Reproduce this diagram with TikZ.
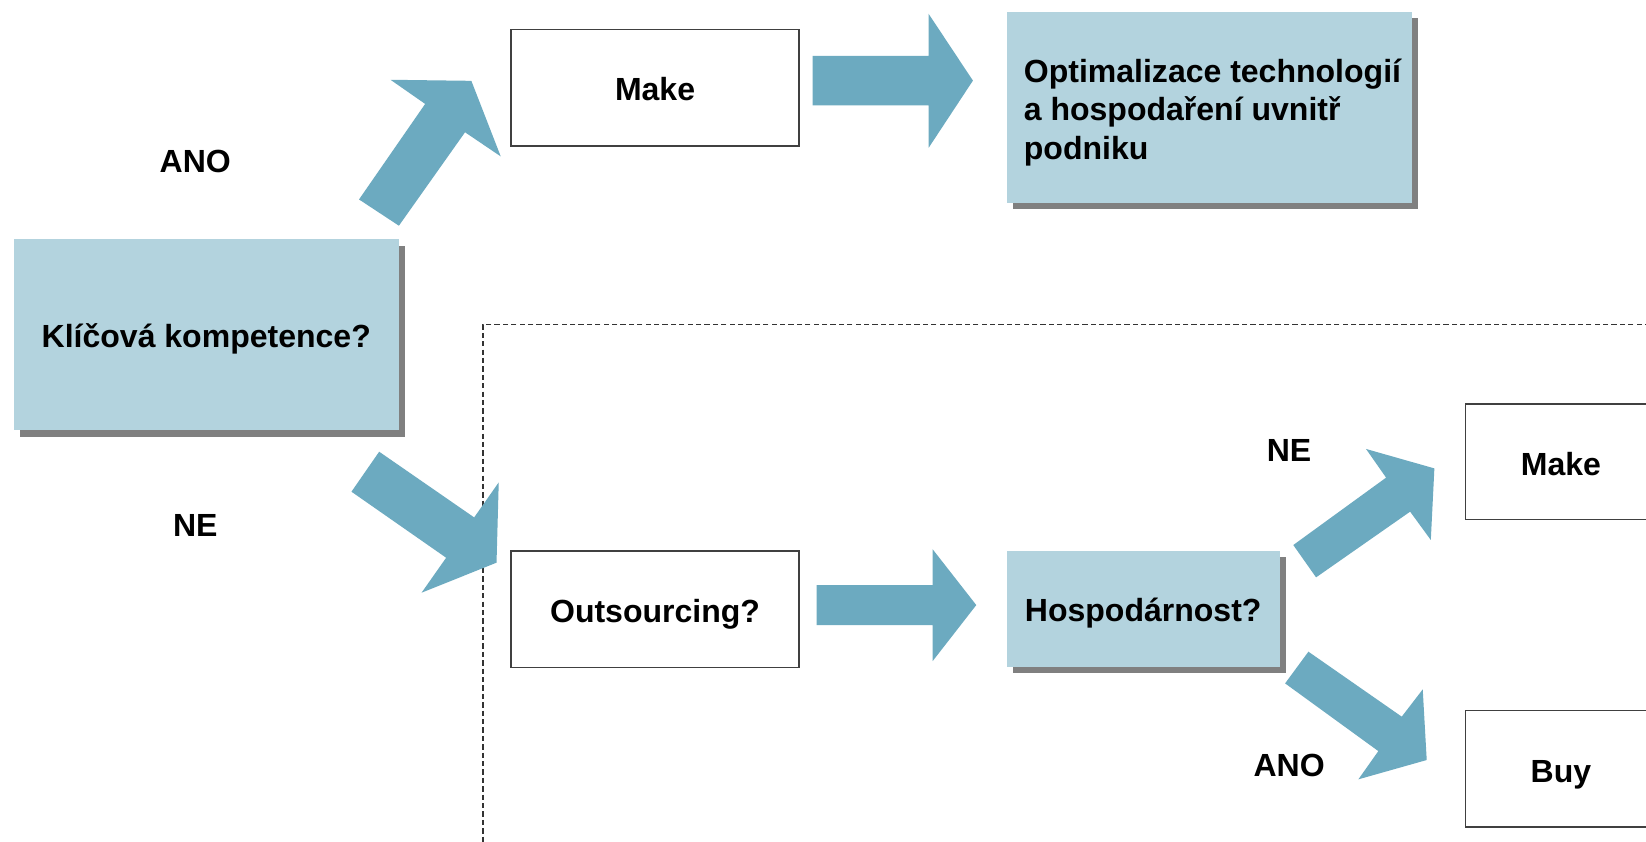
\documentclass[tikz,border=0pt]{standalone}
\usepackage{fontspec}
\setmainfont{Liberation Sans}
\usetikzlibrary{shadows}
\definecolor{boxblue}{RGB}{179,211,222}
\definecolor{arrowblue}{RGB}{108,170,192}
\definecolor{shadowgray}{RGB}{128,128,128}
\definecolor{bordergray}{RGB}{64,64,64}
\begin{document}
\begin{tikzpicture}[x=1pt,y=-1pt,
  font=\fontsize{30.5}{36.5}\selectfont\bfseries,
  capline/.style={text height=25pt,text depth=0pt},
  bluebox/.style={fill=boxblue,draw=none,inner sep=0pt,
    drop shadow={shadow xshift=6pt,shadow yshift=-6pt,fill=shadowgray,opacity=1}},
  whitebox/.style={fill=white,draw=bordergray,line width=1.4pt,inner sep=0pt},
  blockarrow/.style={fill=arrowblue,draw=none},
  answer/.style={inner sep=0pt,text height=21.8pt,text depth=0pt},
  frameline/.style={draw=black!80,line width=1.2pt,dash pattern=on 5pt off 3pt}]
\clip (0,0) rectangle (1568,802);
\fill[white] (0,0) rectangle (1568,802);

% dashed frame
\coordinate (fc) at (460,309);
\coordinate (fr) at (1580,309);
\coordinate (fb) at (460,810);
\draw[frameline] (fr) -- (fc) -- (fb);

% boxes
\node[bluebox,capline,minimum width=367pt,minimum height=182pt] (k) at (196.5,319) {Klíčová kompetence?};
\node[whitebox,capline,minimum width=274pt,minimum height=111pt] (make1) at (624,83.5) {Make};
\node[bluebox,minimum width=386pt,minimum height=182pt] (opt) at (1152,102.5) {};
\node[align=left,inner sep=0pt] (optt) at (1155,107)
  {Optimalizace technologií\\a hospodaření uvnitř\\podniku};
\node[whitebox,capline,minimum width=274pt,minimum height=111pt] (out) at (624,580.5) {Outsourcing?};
\node[bluebox,capline,minimum width=260pt,minimum height=110pt] (hosp) at (1089,580) {Hospodárnost?};
\node[whitebox,capline,minimum width=182pt,minimum height=110pt] (make2) at (1487,440) {Make};
\node[whitebox,capline,minimum width=182pt,minimum height=111pt] (buy) at (1487,732.5) {Buy};

% labels
\node[answer] (ano1) at (186,153) {ANO};
\node[answer] (ne1) at (186,500) {NE};
\node[answer] (ne2) at (1228,429) {NE};
\node[answer] (ano2) at (1228,729) {ANO};

% block arrows
\fill[blockarrow] (342,190) -- (405,99) -- (372,76) -- (449,77) -- (477,149) -- (443,126) -- (380,215) -- cycle;
\fill[blockarrow] (774,53.3) -- (884.7,53.3) -- (884.7,13.3) -- (926.8,76.8) -- (884.7,140.7) -- (884.7,100.3) -- (774,100.3) -- cycle;
\fill[blockarrow] (361.2,430.3) -- (451.7,492.9) -- (475.1,459.5) -- (473,536) -- (401.6,564.6) -- (425,531.3) -- (334.8,468.4) -- cycle;
\fill[blockarrow] (778,557.3) -- (888.5,557.3) -- (888.5,523.3) -- (930,576.4) -- (888.5,629.7) -- (888.5,595.4) -- (778,595.4) -- cycle;
\fill[blockarrow] (1232,519.2) -- (1320.4,455) -- (1301.3,427.7) -- (1366.4,446.2) -- (1363,514.4) -- (1343.3,487.4) -- (1253.7,550) -- cycle;
\fill[blockarrow] (1246.4,620.8) -- (1335.3,682.7) -- (1355.3,656.7) -- (1359.1,724) -- (1294,742.4) -- (1313,715.5) -- (1224.2,651) -- cycle;
\end{tikzpicture}
\end{document}
